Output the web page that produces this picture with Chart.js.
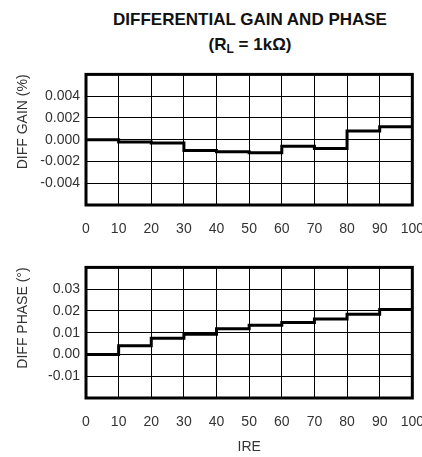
<!DOCTYPE html>
<html>
<head>
<meta charset="utf-8">
<script src="https://cdn.jsdelivr.net/npm/chart.js@4.4.1/dist/chart.umd.min.js"></script>
<style>
  html, body { margin:0; padding:0; background:#fff; width:422px; height:457px; overflow:hidden; position:relative; }
  #title { position:absolute; left:0; top:7px; width:500px; text-align:center; font-family:"Liberation Sans","Arial",sans-serif; font-weight:bold; font-size:17px; line-height:25px; color:#111; }
  canvas { position:absolute; left:0; }
  #c1 { top:60px; }
  #c2 { top:253px; }
</style>
</head>
<body>
<div id="title">DIFFERENTIAL GAIN AND PHASE<br>(R<sub style="font-size:12px;vertical-align:-3px;line-height:0">L</sub> = 1kΩ)</div>
<canvas id="c1" width="440" height="185"></canvas>
<canvas id="c2" width="440" height="204"></canvas>
<script>
// IRE segment starts (each step spans 10 IRE)
const ireStarts = [0, 10, 20, 30, 40, 50, 60, 70, 80, 90];
const ireEnd = 100;
const diffGain = [0.0000, -0.0002, -0.0003, -0.0010, -0.0011, -0.0012, -0.0006, -0.0008, 0.0008, 0.0012];
const diffPhase = [0.000, 0.004, 0.0075, 0.0093, 0.0118, 0.0134, 0.0147, 0.0163, 0.0185, 0.0207];
const gainTicks = [-0.006, -0.004, -0.002, 0.000, 0.002, 0.004, 0.006];
const phaseTicks = [-0.02, -0.01, 0.00, 0.01, 0.02, 0.03, 0.04];

const FONT = '"Liberation Sans","Arial",sans-serif';
const TXT = '#333';

function stepData(vals) {
  const pts = ireStarts.map((x, i) => ({x: x, y: vals[i]}));
  pts.push({x: ireEnd, y: vals[vals.length - 1]});
  return pts;
}

const frame = {
  id: 'frame',
  afterDatasetsDraw(chart) {
    const a = chart.chartArea, c = chart.ctx;
    c.save(); c.strokeStyle = '#000'; c.lineWidth = 3;
    c.strokeRect(a.left, a.top, a.right - a.left, a.bottom - a.top);
    c.restore();
  }
};

function makeChart(id, vals, ticks, digits, yTitle, xTitle, xHeight) {
  return new Chart(document.getElementById(id), {
    type: 'line',
    data: { datasets: [{ data: stepData(vals), stepped: 'before', borderColor: '#000', borderWidth: 3, pointRadius: 0, fill: false }] },
    options: {
      responsive: false, animation: false,
      layout: { padding: { top: 9, right: 26, left: 0, bottom: 0 } },
      plugins: { legend: { display: false }, tooltip: { enabled: false } },
      scales: {
        x: {
          type: 'linear', min: 0, max: ireEnd,
          afterBuildTicks: s => { s.ticks = ireStarts.concat([ireEnd]).map(v => ({value: v})); },
          afterFit: s => { s.height = xHeight; },
          grid: { color: '#000', lineWidth: 1, drawTicks: false },
          border: { display: false },
          ticks: { color: TXT, font: { family: FONT, size: 14 }, padding: 16, maxRotation: 0, autoSkip: false },
          title: { display: !!xTitle, text: xTitle || '', color: TXT, font: { family: FONT, size: 14 }, padding: { top: 0, bottom: 1 } }
        },
        y: {
          type: 'linear', min: ticks[0], max: ticks[ticks.length - 1],
          afterBuildTicks: s => { s.ticks = ticks.map(v => ({value: v})); },
          afterFit: s => { s.width = 86; },
          grid: { color: '#000', lineWidth: 1, drawTicks: false },
          border: { display: false },
          ticks: {
            color: TXT, font: { family: FONT, size: 14 }, padding: 6, autoSkip: false,
            callback: (v, i) => (i === 0 || i === ticks.length - 1) ? '' : Number(v).toFixed(digits)
          },
          title: { display: true, text: yTitle, align: 'end', color: TXT, font: { family: FONT, size: 14 }, padding: { top: 15, bottom: 0 } }
        }
      }
    },
    plugins: [frame]
  });
}

makeChart('c1', diffGain, gainTicks, 3, 'DIFF GAIN (%)', null, 40);
makeChart('c2', diffPhase, phaseTicks, 2, 'DIFF PHASE (°)', 'IRE', 59);
</script>
</body>
</html>
